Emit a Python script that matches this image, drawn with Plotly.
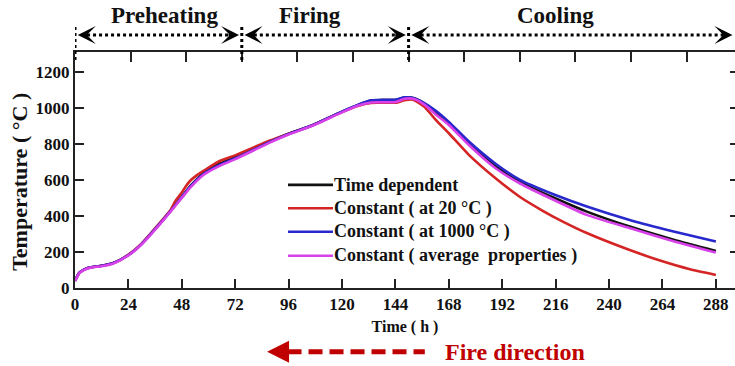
import plotly.graph_objects as go

# ---- data -------------------------------------------------------------
t_rise = [0, 2, 4, 7, 12, 17, 24, 30, 38, 43, 48, 52, 58, 65, 72, 80, 88, 96,
          107, 118, 127, 133, 138, 144, 146, 148, 152, 157, 162, 168, 177, 189,
          200, 215, 230, 250, 269, 288]

temp_time_dep = [40, 85, 102, 115, 123, 137, 183, 245, 355, 428, 505, 568, 640,
                 690, 726, 770, 815, 856, 905, 968, 1015, 1040, 1043, 1044, 1050,
                 1057, 1054, 1024, 975, 915, 805, 675, 588, 502, 424, 338, 268, 206]

t_red = [0, 2, 4, 7, 12, 17, 24, 30, 38, 43, 45, 48, 50, 52, 55, 58, 65, 72,
         80, 88, 96, 107, 118, 127, 133, 138, 145, 148, 152, 157, 162, 168, 177,
         189, 200, 210, 219, 230, 249, 264, 276, 288]
temp_const_20 = [40, 85, 102, 115, 123, 137, 185, 248, 360, 435, 480, 530, 568,
                 598, 628, 652, 705, 736, 779, 820, 856, 905, 966, 1010, 1027,
                 1028, 1030, 1042, 1045, 1006, 935, 859, 739, 609, 505, 430, 370,
                 305, 212, 148, 105, 72]

temp_const_1000 = [40, 85, 102, 115, 123, 137, 183, 245, 355, 428, 505, 565,
                   635, 683, 720, 766, 813, 855, 905, 968, 1016, 1042, 1044,
                   1045, 1052, 1058, 1055, 1026, 985, 922, 813, 690, 600, 520,
                   452, 375, 314, 258]

temp_const_avg = [38, 83, 100, 113, 121, 135, 181, 243, 352, 425, 500, 560, 630,
                  678, 715, 762, 810, 852, 902, 964, 1012, 1030, 1031, 1032,
                  1040, 1050, 1050, 1018, 965, 905, 794, 665, 580, 490, 406, 330,
                  260, 197]

series_names = ["Time dependent", "Constant ( at 20 °C )",
                "Constant ( at 1000 °C )", "Constant ( average  properties )"]
series_colors = ["#111111", "#d42424", "#2828cc", "#d840ea"]

x_ticks = list(range(0, 289, 24))
y_ticks = list(range(0, 1201, 200))

# kiln zones on the top scale (h)
zone_names = ["Preheating", "Firing", "Cooling"]
zone_bounds = [0, 72, 144, 285]

FONT = "Liberation Serif"
INK = "#111111"

fig = go.Figure()
series_x = [t_rise, t_red, t_rise, t_rise]
series_y = [temp_time_dep, temp_const_20, temp_const_1000, temp_const_avg]
for name, color, xs, ys in zip(series_names, series_colors, series_x, series_y):
    fig.add_trace(go.Scatter(x=xs, y=ys, mode="lines", name=name,
                             showlegend=False,
                             line=dict(color=color, width=2.6, shape="spline",
                                       smoothing=0.6)))

# invisible anchor so the top time scale and the right tick column are drawn
fig.add_trace(go.Scatter(x=zone_bounds, y=[0] * len(zone_bounds), xaxis="x2",
                         yaxis="y2", mode="markers", marker=dict(opacity=0),
                         hoverinfo="skip", showlegend=False))

axis_font = dict(family=FONT, size=17, color=INK, weight="bold")

fig.update_layout(
    width=735, height=366,
    margin=dict(l=75, r=0, t=52, b=78),
    paper_bgcolor="white", plot_bgcolor="white",
    xaxis=dict(range=[0, 296.6], tickvals=x_ticks, ticks="inside", ticklen=9,
               tickwidth=2, tickcolor="#222", showline=True, linewidth=2,
               linecolor="#222", showgrid=False, zeroline=False,
               tickfont=axis_font,
               title=dict(text="<b>Time ( h )</b>", standoff=7,
                          font=dict(family=FONT, size=16, color=INK))),
    xaxis2=dict(range=[0, 284.9], overlaying="x", side="top", anchor="y",
                tickvals=x_ticks[:-1], ticks="inside", ticklen=10, tickwidth=2,
                tickcolor="#222", showline=True, linewidth=2, linecolor="#222",
                showticklabels=False, showgrid=False, zeroline=False),
    yaxis=dict(range=[0, 1310], tickvals=y_ticks, ticks="inside", ticklen=9,
               tickwidth=2, tickcolor="#222", showline=True, linewidth=2,
               linecolor="#222", showgrid=False, zeroline=False,
               tickfont=axis_font),
    yaxis2=dict(range=[0, 1310], overlaying="y", side="right", anchor="x",
                tickvals=y_ticks[1:], ticks="inside", ticklen=5, tickwidth=2,
                tickcolor="#222", showline=False, showticklabels=False,
                showgrid=False, zeroline=False),
)

# y-axis title
fig.add_annotation(x=-0.0833, y=0.45, xref="paper", yref="paper",
                   text="<b>Temperature ( °C )</b>", textangle=-90,
                   showarrow=False, xanchor="center", yanchor="middle",
                   font=dict(family=FONT, size=22, color=INK))

# legend: short colour bars with labels, inside the plot
leg_x0, leg_x1, leg_tx = 0.3227, 0.3909, 0.3895
leg_rows = [0.437, 0.3377, 0.2383, 0.1367]
for name, color, ry in zip(series_names, series_colors, leg_rows):
    fig.add_shape(type="line", xref="paper", yref="paper", x0=leg_x0, x1=leg_x1,
                  y0=ry, y1=ry, line=dict(color=color, width=2.6))
    fig.add_annotation(x=leg_tx, y=ry, xref="paper", yref="paper",
                       text="<b>%s</b>" % name, showarrow=False,
                       xanchor="left", yanchor="middle",
                       font=dict(family=FONT, size=18, color=INK))

# zone boundaries: dotted verticals crossing the top frame
for b in zone_bounds[:3]:
    fig.add_shape(type="line", xref="x2", yref="paper", x0=b, x1=b,
                  y0=0.966, y1=1.114, line=dict(color="black", width=3, dash="dot"))

# zone spans: dotted double arrows with titles above
gap = 1.2
arrow_y = 1.072
title_x = [164.5, 310, 555]
for i, name in enumerate(zone_names):
    a, b = zone_bounds[i] + gap, zone_bounds[i + 1] - gap
    fig.add_shape(type="line", xref="x2", yref="paper", x0=a + 4, x1=b - 4,
                  y0=arrow_y, y1=arrow_y,
                  line=dict(color="black", width=3, dash="dot"))
    for tip, off in ((a, 12), (b, -12)):
        fig.add_annotation(x=tip, y=arrow_y, xref="x2", yref="paper", text="",
                           showarrow=True, ax=off, ay=0, arrowhead=3,
                           arrowsize=1.5, arrowwidth=2, arrowcolor="black",
                           standoff=0)
    fig.add_annotation(x=(title_x[i] - 75) / 660, y=1.1566, xref="paper",
                       yref="paper", text="<b>%s</b>" % name, showarrow=False,
                       xanchor="center", yanchor="middle",
                       font=dict(family=FONT, size=23, color=INK))

# fire direction marker below the axis
fig.add_shape(type="line", xref="paper", yref="paper", x0=0.322, x1=0.530,
              y0=-0.2696, y1=-0.2696,
              line=dict(color="#c00000", width=5, dash="14px,7px"))
fig.add_annotation(x=0.291, y=-0.2696, xref="paper", yref="paper", text="",
                   showarrow=True, ax=20, ay=0, arrowhead=2, arrowsize=1.1,
                   arrowwidth=4, arrowcolor="#c00000", standoff=0)
fig.add_annotation(x=0.5576, y=-0.2696, xref="paper", yref="paper",
                   text="<b>Fire direction</b>", showarrow=False,
                   xanchor="left", yanchor="middle",
                   font=dict(family=FONT, size=24, color="#c00000"))

fig.write_html("out.html")
